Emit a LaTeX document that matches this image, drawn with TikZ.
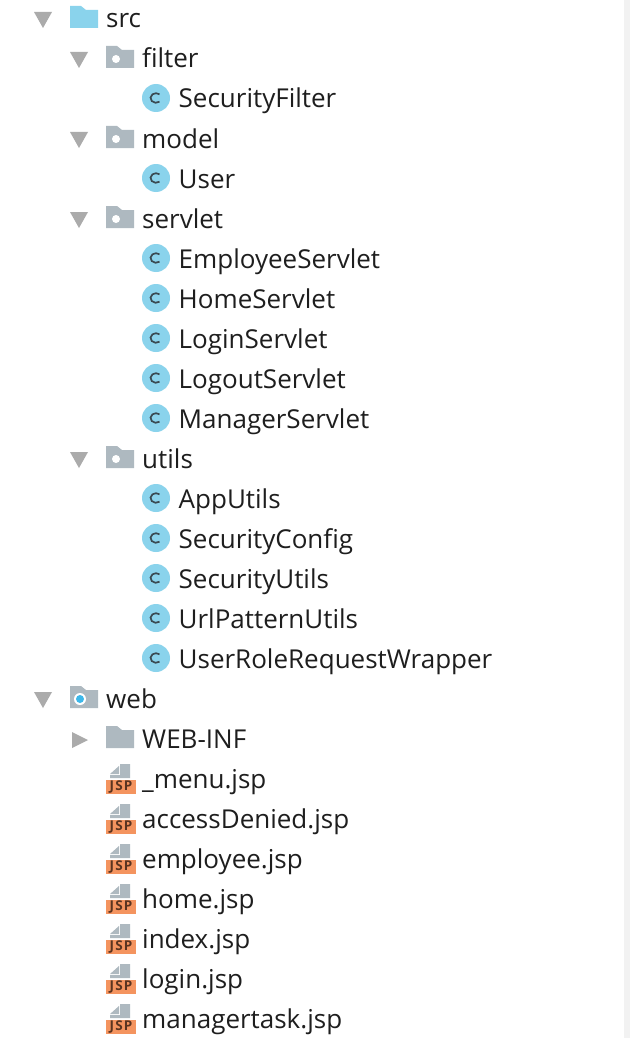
\documentclass[tikz,border=0pt]{standalone}
\usepackage{fontspec}
\setmainfont[Ligatures=NoCommon]{Open Sans}
\newfontfamily\jspfont[LetterSpace=8]{Open Sans}
\definecolor{folderblue}{HTML}{8AD3EC}
\definecolor{foldergray}{HTML}{AEB9C0}
\definecolor{arrowgray}{HTML}{ABABAB}
\definecolor{inktext}{HTML}{1E1E1E}
\definecolor{cdark}{HTML}{3A4A52}
\definecolor{jsporange}{HTML}{F4945F}
\definecolor{jspink}{HTML}{5A3420}
\definecolor{dotblue}{HTML}{3DB8EA}
\definecolor{stripgray}{HTML}{F2F2F2}
\tikzset{
  rowlabel/.style={anchor=base west,inner sep=0pt,text=inktext,font=\fontsize{26}{30}\selectfont},
  arrowfill/.style={fill=arrowgray,draw=none},
}
\newcommand{\folderat}[3]{\fill[#3] (#1,#2) -- ++(11,0) -- ++(5,4) -- ++(12,0) -- ++(0,18) -- ++(-28,0) -- cycle;}
\newcommand{\tridown}[2]{\fill[arrowfill] (#1,#2) -- ++(18,0) -- ++(-9,16) -- cycle;}
\newcommand{\triright}[2]{\fill[arrowfill] (#1,#2) -- ++(16,8) -- ++(-16,8) -- cycle;}
\newcommand{\pkg}[3]{%
  \tridown{70}{#1-7}
  \folderat{106}{#1-13}{foldergray}
  \fill[white] (116,#1) circle (4);
  \node[rowlabel] (#2) at (142,#1+9) {#3};}
\newcommand{\cls}[3]{%
  \fill[folderblue] (156,#1-1) circle (14);
  \draw[cdark,line width=1.7pt] (156,#1-1) ++(50:5.5 and 4.8) arc[start angle=50,end angle=310,x radius=5.5,y radius=4.8];
  \node[rowlabel] (#2) at (178.5,#1+9) {#3};}
\newcommand{\jsp}[3]{%
  \fill[foldergray] (120,#1-16) -- (130,#1-16) -- (130,#1-2) -- (110,#1-2) -- (110,#1-5) -- (120,#1-5) -- cycle;
  \fill[foldergray] (119,#1-6) -- (110,#1-6) -- (119,#1-14) -- cycle;
  \fill[jsporange] (106,#1) rectangle (136,#1+14);
  \node[anchor=center,inner sep=0pt,text=jspink,font=\jspfont\bfseries\fontsize{13.5}{14}\selectfont] (#2i) at (121,#1+7) {JSP};
  \node[rowlabel] (#2) at (142,#1+8) {#3};}
\begin{document}
\begin{tikzpicture}[x=1pt,y=-1pt]
\useasboundingbox (0,0) rectangle (630,1038);
\fill[white] (0,0) rectangle (630,1038);
\fill[stripgray] (624,0) rectangle (630,1038);
\tridown{34}{12}
\folderat{70}{6}{folderblue}
\node[rowlabel] (src) at (106,28) {src};
\pkg{59}{filter}{filter}
\cls{99}{securityfilter}{SecurityFilter}
\pkg{139}{model}{model}
\cls{179}{user}{User}
\pkg{219}{servlet}{servlet}
\cls{259}{employeeservlet}{EmployeeServlet}
\cls{299}{homeservlet}{HomeServlet}
\cls{339}{loginservlet}{LoginServlet}
\cls{379}{logoutservlet}{LogoutServlet}
\cls{419}{managerservlet}{ManagerServlet}
\pkg{459}{utils}{utils}
\cls{499}{apputils}{AppUtils}
\cls{539}{securityconfig}{SecurityConfig}
\cls{579}{securityutils}{SecurityUtils}
\cls{619}{urlpatternutils}{UrlPatternUtils}
\cls{659}{userrole}{UserRoleRequestWrapper}
\tridown{34}{692}
\folderat{70}{686}{foldergray}
\fill[white] (80,699) circle (6);
\fill[dotblue] (80,699) circle (4);
\node[rowlabel] (web) at (106,708) {web};
\triright{72}{732}
\folderat{106}{726}{foldergray}
\node[rowlabel] (webinf) at (142,748) {WEB-INF};
\jsp{780}{menu}{\_menu.jsp}
\jsp{820}{denied}{accessDenied.jsp}
\jsp{860}{employee}{employee.jsp}
\jsp{900}{home}{home.jsp}
\jsp{940}{index}{index.jsp}
\jsp{980}{login}{login.jsp}
\jsp{1020}{managertask}{managertask.jsp}
\end{tikzpicture}
\end{document}
